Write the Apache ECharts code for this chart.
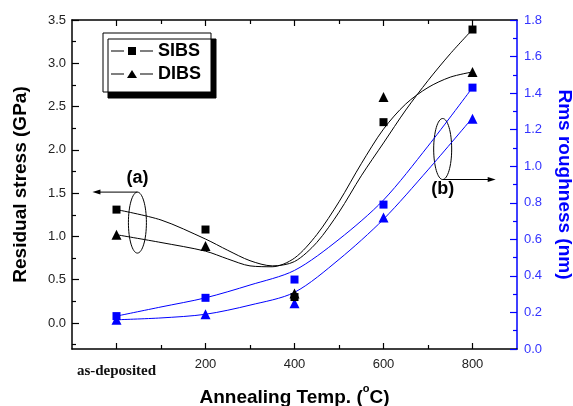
<!DOCTYPE html>
<html>
<head>
<meta charset="utf-8">
<script src="https://cdn.jsdelivr.net/npm/echarts@6/dist/echarts.min.js"></script>
<style>
html, body { margin: 0; background: #fff; }
#box { width: 573px; height: 406px; }
</style>
</head>
<body>
<div id="box"></div>
<script>
// measured points
var temps = [0, 200, 400, 600, 800]
var stressSIBS = [1.31, 1.08, 0.30, 2.32, 3.39]
var stressDIBS = [1.02, 0.89, 0.34, 2.61, 2.90]
var rmsSIBS = [0.18, 0.28, 0.38, 0.79, 1.43]
var rmsDIBS = [0.16, 0.19, 0.25, 0.72, 1.26]

// fitted curves
var fitTemps = [0, 100, 200, 250, 300, 350, 400, 450, 500, 550, 600, 650, 700, 750, 800]
var fitStressSIBS = [1.31, 1.19, 0.97, 0.84, 0.72, 0.66, 0.71, 0.93, 1.28, 1.70, 2.08, 2.46, 2.80, 3.11, 3.39]
var fitStressDIBS = [1.02, 0.93, 0.83, 0.74, 0.66, 0.65, 0.75, 1.02, 1.40, 1.84, 2.24, 2.53, 2.72, 2.84, 2.90]
var fitRmsTemps = [0, 100, 200, 300, 400, 500, 600, 700, 800]
var fitRmsSIBS = [0.18, 0.23, 0.28, 0.35, 0.43, 0.60, 0.815, 1.11, 1.43]
var fitRmsDIBS = [0.16, 0.17, 0.19, 0.24, 0.31, 0.49, 0.71, 0.98, 1.265]

// tick labels
var xTicks = [0, 200, 400, 600, 800]
var xMinor = [100, 300, 500, 700]
var stressTicks = [0, 0.5, 1.0, 1.5, 2.0, 2.5, 3.0, 3.5]
var stressMinor = [-0.25, 0.25, 0.75, 1.25, 1.75, 2.25, 2.75, 3.25]

var BLUE = '#0000ff'
var FONT = 'Arial, "Liberation Sans", sans-serif'

function pairs(xs, ys) {
    return xs.map(function (x, i) { return [x, ys[i]] })
}

var Chart = echarts.init(document.getElementById('box'))

var tickBase = {
    type: 'value', min: -100, max: 900,
    splitLine: { show: false }
}

var option = {
    animation: false,
    grid: { left: 72, right: 56, top: 20, bottom: 57, outerBoundsMode: 'none' },
    legend: {
        orient: 'vertical',
        left: 103, top: 33,
        padding: [9, 10, 9, 8],
        itemWidth: 42, itemHeight: 8, itemGap: 5,
        borderColor: '#000', borderWidth: 1,
        backgroundColor: '#fff',
        shadowColor: '#000', shadowBlur: 0, shadowOffsetX: 5, shadowOffsetY: 6,
        textStyle: { fontFamily: FONT, fontWeight: 'bold', fontSize: 18, color: '#000' },
        data: [
            { name: 'SIBS', icon: 'path://M0,3.5H13V4.5H0Z M17,0H25V8H17Z M29,3.5H42V4.5H29Z' },
            { name: 'DIBS', icon: 'path://M0,3.5H13V4.5H0Z M16,8L21,0L26,8Z M29,3.5H42V4.5H29Z' }
        ]
    },
    xAxis: [
        Object.assign({}, tickBase, {
            position: 'bottom',
            axisLine: { onZero: false, lineStyle: { color: '#000', width: 1.5 } },
            axisTick: { inside: true, length: 6, customValues: xTicks, lineStyle: { color: '#000', width: 1.2 } },
            axisLabel: {
                customValues: xTicks, margin: 9,
                fontFamily: FONT, fontSize: 13, color: '#222',
                formatter: function (v) { return v === 0 ? '{dep|as-deposited}' : String(v) },
                rich: { dep: { fontFamily: '"Liberation Serif", "Times New Roman", serif', fontWeight: 'bold', fontSize: 15, color: '#111', padding: [6, 0, 0, 0] } }
            },
            name: 'Annealing Temp. ({s|o}C)',
            nameLocation: 'middle', nameGap: 31,
            nameTextStyle: {
                fontFamily: FONT, fontWeight: 'bold', fontSize: 19, color: '#000',
                rich: { s: { fontFamily: FONT, fontWeight: 'bold', fontSize: 11, color: '#000', padding: [0, 0, 16, 0] } }
            }
        }),
        Object.assign({}, tickBase, {
            position: 'bottom',
            axisLine: { show: false, onZero: false },
            axisTick: { inside: true, length: 4, customValues: xMinor, lineStyle: { color: '#000', width: 1.2 } },
            axisLabel: { show: false }
        }),
        Object.assign({}, tickBase, {
            position: 'top',
            axisLine: { onZero: false, lineStyle: { color: '#000', width: 1.5 } },
            axisTick: { inside: true, length: 6, customValues: xTicks, lineStyle: { color: '#000', width: 1.2 } },
            axisLabel: { show: false }
        }),
        Object.assign({}, tickBase, {
            position: 'top',
            axisLine: { show: false, onZero: false },
            axisTick: { inside: true, length: 4, customValues: xMinor, lineStyle: { color: '#000', width: 1.2 } },
            axisLabel: { show: false }
        })
    ],
    yAxis: [
        {
            type: 'value', min: -0.3, max: 3.5, position: 'left',
            splitLine: { show: false },
            axisLine: { show: true, onZero: false, lineStyle: { color: '#000', width: 1.5 } },
            axisTick: { inside: true, length: 7, customValues: stressTicks, lineStyle: { color: '#000', width: 1.2 } },
            axisLabel: {
                customValues: stressTicks, margin: 6,
                fontFamily: FONT, fontSize: 13, color: '#222',
                formatter: function (v) { return v.toFixed(1) }
            },
            name: 'Residual stress (GPa)',
            nameLocation: 'middle', nameGap: 42,
            nameTextStyle: { fontFamily: FONT, fontWeight: 'bold', fontSize: 19, color: '#000' }
        },
        {
            type: 'value', min: -0.3, max: 3.5, position: 'left',
            splitLine: { show: false },
            axisLine: { show: false, onZero: false },
            axisTick: { inside: true, length: 4, customValues: stressMinor, lineStyle: { color: '#000', width: 1.2 } },
            axisLabel: { show: false }
        },
        {
            type: 'value', min: 0, max: 1.8, interval: 0.2, position: 'right',
            splitLine: { show: false },
            axisLine: { show: true, onZero: false, lineStyle: { color: BLUE, width: 1.5 } },
            axisTick: { inside: true, length: 7, lineStyle: { color: BLUE, width: 1.2 } },
            minorTick: { show: true, splitNumber: 2, length: 4, lineStyle: { color: BLUE, width: 1.2 } },
            axisLabel: {
                margin: 7, fontFamily: FONT, fontSize: 13, color: '#3333ff',
                formatter: function (v) { return v.toFixed(1) }
            },
            name: 'Rms roughness (nm)',
            nameLocation: 'middle', nameGap: 38, nameRotate: -90,
            nameTextStyle: { fontFamily: FONT, fontWeight: 'bold', fontSize: 19, color: BLUE }
        }
    ],
    series: [
        {
            name: 'SIBS', type: 'scatter', yAxisIndex: 0,
            symbol: 'rect', symbolSize: 8,
            itemStyle: { color: '#000', opacity: 1 },
            data: pairs(temps, stressSIBS), z: 5
        },
        {
            name: 'DIBS', type: 'scatter', yAxisIndex: 0,
            symbol: 'triangle', symbolSize: 10,
            itemStyle: { color: '#000', opacity: 1 },
            data: pairs(temps, stressDIBS), z: 5
        },
        {
            name: 'SIBS fit', type: 'line', yAxisIndex: 0, smooth: 0.3,
            showSymbol: false, lineStyle: { color: '#000', width: 1 },
            data: pairs(fitTemps, fitStressSIBS)
        },
        {
            name: 'DIBS fit', type: 'line', yAxisIndex: 0, smooth: 0.3,
            showSymbol: false, lineStyle: { color: '#000', width: 1 },
            data: pairs(fitTemps, fitStressDIBS)
        },
        {
            name: 'SIBS rms', type: 'scatter', yAxisIndex: 2,
            symbol: 'rect', symbolSize: 8,
            itemStyle: { color: BLUE, opacity: 1 },
            data: pairs(temps, rmsSIBS), z: 5
        },
        {
            name: 'DIBS rms', type: 'scatter', yAxisIndex: 2,
            symbol: 'triangle', symbolSize: 10,
            itemStyle: { color: BLUE, opacity: 1 },
            data: pairs(temps, rmsDIBS), z: 4
        },
        {
            name: 'SIBS rms fit', type: 'line', yAxisIndex: 2, smooth: 0.3,
            showSymbol: false, lineStyle: { color: BLUE, width: 1 },
            data: pairs(fitRmsTemps, fitRmsSIBS)
        },
        {
            name: 'DIBS rms fit', type: 'line', yAxisIndex: 2, smooth: 0.3,
            showSymbol: false, lineStyle: { color: BLUE, width: 1 },
            data: pairs(fitRmsTemps, fitRmsDIBS)
        }
    ]
}
Chart.setOption(option)

// annotation ellipses with arrows pointing to the axis they belong to
function note(center, label, dir, arrowLen) {
    var p = Chart.convertToPixel({ xAxisIndex: 0, yAxisIndex: 0 }, center)
    var rx = 9, ry = 30.5
    var ay = dir < 0 ? p[1] - ry : p[1] + ry
    var tip = p[0] + dir * arrowLen
    return [
        { type: 'ellipse', shape: { cx: p[0], cy: p[1], rx: rx, ry: ry }, style: { fill: 'none', stroke: '#000', lineWidth: 1 } },
        { type: 'line', shape: { x1: p[0], y1: ay, x2: tip - dir * 6, y2: ay }, style: { stroke: '#000', lineWidth: 1 } },
        { type: 'polygon', shape: { points: [[tip, ay], [tip - dir * 8, ay - 2.5], [tip - dir * 8, ay + 2.5]] }, style: { fill: '#000' } },
        {
            type: 'text', x: p[0], y: dir < 0 ? ay - 14 : ay + 10,
            style: { text: label, align: 'center', verticalAlign: 'middle', font: 'bold 18px ' + FONT, fill: '#000' }
        }
    ]
}
Chart.setOption({
    graphic: note([47, 1.16], '(a)', -1, 45).concat(note([733, 2.01], '(b)', 1, 53))
})
window.onresize = () => {
    Chart.resize()
}
</script>
</body>
</html>
